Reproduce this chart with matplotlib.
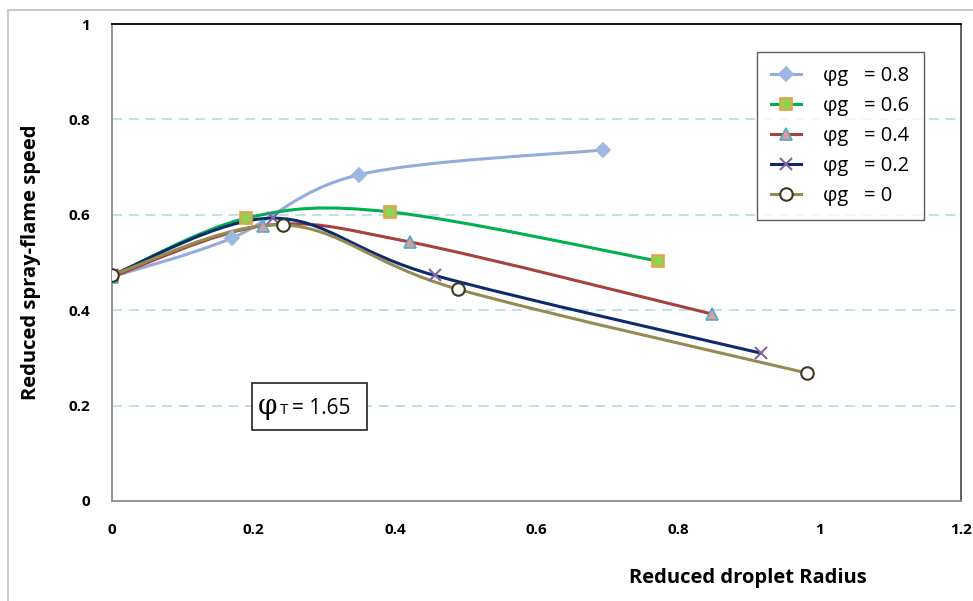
import numpy as np
import matplotlib
matplotlib.use("Agg")
import matplotlib.pyplot as plt
from matplotlib.path import Path
from matplotlib.patches import PathPatch, Rectangle
from matplotlib.lines import Line2D

# data
labels = ["φg   = 0.8", "φg   = 0.6", "φg   = 0.4", "φg   = 0.2", "φg   = 0"]
x08 = [0.0, 0.169, 0.349, 0.694]
y08 = [0.470, 0.551, 0.684, 0.736]
x06 = [0.0, 0.190, 0.393, 0.772]
y06 = [0.472, 0.593, 0.606, 0.503]
x04 = [0.0, 0.214, 0.421, 0.848]
y04 = [0.470, 0.577, 0.543, 0.392]
x02 = [0.0, 0.227, 0.456, 0.917]
y02 = [0.474, 0.593, 0.473, 0.310]
x00 = [0.0, 0.241, 0.489, 0.983]
y00 = [0.474, 0.579, 0.444, 0.268]

series = [(x08, y08), (x06, y06), (x04, y04), (x02, y02), (x00, y00)]
line_colors = ["#95ABDA", "#00B050", "#A5413E", "#0E2A6E", "#948A54"]
markers = ["D", "s", "^", "x", "o"]
mfaces = ["#9DB6E2", "#92D050", "#E39A9A", "#8064A2", "white"]
medges = ["#9DB6E2", "#F79646", "#4BACC6", "#8064A2", "#3B3820"]
msizes = [7, 9, 9, 8, 9]

plt.rcParams['font.family'] = ['Open Sans', 'DejaVu Sans']


def smooth_path(xs, ys):
    # Excel-like smoothed line: Catmull-Rom segments as cubic Bezier curves
    pts = np.column_stack([xs, ys])
    n = len(pts)
    verts = [pts[0]]
    codes = [Path.MOVETO]
    for i in range(n - 1):
        p0 = pts[i - 1] if i > 0 else pts[i]
        p1 = pts[i]
        p2 = pts[i + 1]
        p3 = pts[i + 2] if i + 2 < n else pts[i + 1]
        c1 = p1 + (p2 - p0) / 6.0
        c2 = p2 - (p3 - p1) / 6.0
        verts += [c1, c2, p2]
        codes += [Path.CURVE4] * 3
    return Path(verts, codes)


fig = plt.figure(figsize=(9.73, 6.01), dpi=100)
fig.patches.append(Rectangle((8 / 973, -0.05), 1.1, 1 - 10 / 601 + 0.05,
                             transform=fig.transFigure, fill=False,
                             edgecolor="#C8C8C8", linewidth=1.5))
ax = fig.add_axes([112 / 973, 1 - 501 / 601, 849 / 973, 477 / 601])

for yg in [0.2, 0.4, 0.6, 0.8]:
    ax.axhline(yg, color="#B4DCE6", linestyle=(0, (6, 4)), linewidth=1.2, zorder=0)

handles = []
for i, (xs, ys) in enumerate(series):
    ax.add_patch(PathPatch(smooth_path(xs, ys), facecolor="none",
                           edgecolor=line_colors[i], linewidth=2.2, zorder=2 + i))
    mew = 1.5 if markers[i] in ("x", "o") else 1.2
    ax.plot(xs, ys, linestyle="none", marker=markers[i], markersize=msizes[i],
            markerfacecolor=mfaces[i], markeredgecolor=medges[i],
            markeredgewidth=mew, zorder=10 + i)
    handles.append(Line2D([], [], color=line_colors[i], linewidth=2.2,
                          marker=markers[i], markersize=msizes[i],
                          markerfacecolor=mfaces[i], markeredgecolor=medges[i],
                          markeredgewidth=mew))

ax.set_xlim(0, 1.2)
ax.set_ylim(0, 1)
ax.set_xticks([0, 0.2, 0.4, 0.6, 0.8, 1, 1.2])
ax.set_xticklabels(["0", "0.2", "0.4", "0.6", "0.8", "1", "1.2"])
ax.set_yticks([0, 0.2, 0.4, 0.6, 0.8, 1])
ax.set_yticklabels(["0", "0.2", "0.4", "0.6", "0.8", "1"])
ax.tick_params(length=0, labelsize=11, pad=16)
for lab in ax.get_xticklabels() + ax.get_yticklabels():
    lab.set_fontweight("bold")

ax.spines["left"].set_color("#8C8C8C")
ax.spines["bottom"].set_color("#8C8C8C")
ax.spines["top"].set_color("#000000")
ax.spines["right"].set_color("#555555")
for s in ax.spines.values():
    s.set_linewidth(1.3)

leg = ax.legend(handles, labels, loc="upper left",
                bbox_to_anchor=((757 - 112) / 849, (501 - 52) / 477),
                borderaxespad=0, frameon=True, fancybox=False, fontsize=14.5,
                handlelength=1.5, labelspacing=0.5, borderpad=0.7,
                handletextpad=1.1)
leg.get_frame().set_edgecolor("#333333")
leg.get_frame().set_linewidth(1.0)

# phi_T annotation box
ax.add_patch(Rectangle(((252 - 112) / 707.5, (501 - 430) / 477), 115 / 707.5, 47 / 477,
                       facecolor="white", edgecolor="#222222", linewidth=1.2, zorder=20))
ax.text((258 - 112) / 707.5, (501 - 407) / 477, "φ", fontsize=20, va="center",
        ha="left", zorder=21, family=["DejaVu Serif"])
ax.text((280 - 112) / 707.5, (501 - 410) / 477, "T", fontsize=11, va="center",
        ha="left", zorder=21)
ax.text((292 - 112) / 707.5, (501 - 408) / 477, "= 1.65", fontsize=15, va="center",
        ha="left", zorder=21)

fig.text(748 / 973, 1 - 578 / 601, "Reduced droplet Radius", ha="center", va="center",
         fontsize=14.5, fontweight="bold")
fig.text(31 / 973, 1 - 262 / 601, "Reduced spray-flame speed", ha="center", va="center",
         rotation=90, fontsize=14.5, fontweight="bold")

fig.savefig("out.png", dpi=100)
